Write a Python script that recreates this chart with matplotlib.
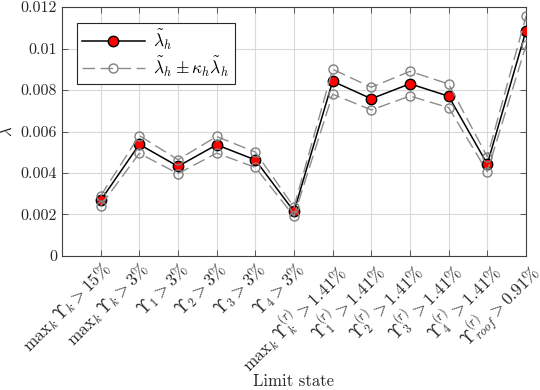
import numpy as np
import matplotlib
matplotlib.use("Agg")
import matplotlib.pyplot as plt

plt.rcParams['font.family'] = ['cmr10', 'DejaVu Serif']
plt.rcParams['mathtext.fontset'] = 'cm'
plt.rcParams['axes.unicode_minus'] = False

# limit states and estimated failure rates
states = [r'$\mathrm{max}_k\, \Upsilon_k > 15\%$',
          r'$\mathrm{max}_k\, \Upsilon_k > 3\%$',
          r'$\Upsilon_1 > 3\%$',
          r'$\Upsilon_2 > 3\%$',
          r'$\Upsilon_3 > 3\%$',
          r'$\Upsilon_4 > 3\%$',
          r'$\mathrm{max}_k\, \Upsilon^{(r)}_k > 1.41\%$',
          r'$\Upsilon^{(r)}_1 > 1.41\%$',
          r'$\Upsilon^{(r)}_2 > 1.41\%$',
          r'$\Upsilon^{(r)}_3 > 1.41\%$',
          r'$\Upsilon^{(r)}_4 > 1.41\%$',
          r'$\Upsilon^{(r)}_{roof} > 0.91\%$']
lam = [0.00268, 0.00538, 0.00432, 0.00536, 0.00463, 0.00215,
       0.00842, 0.00758, 0.00830, 0.00770, 0.00443, 0.01085]
upper = [0.00290, 0.00580, 0.00464, 0.00576, 0.00501, 0.00236,
         0.00900, 0.00813, 0.00890, 0.00829, 0.00478, 0.01155]
lower = [0.00242, 0.00495, 0.00397, 0.00496, 0.00427, 0.00192,
         0.00780, 0.00704, 0.00771, 0.00715, 0.00406, 0.01015]
yticks = [0, 0.002, 0.004, 0.006, 0.008, 0.01, 0.012]
ytick_labels = ['0', '0.002', '0.004', '0.006', '0.008', '0.01', '0.012']

x = np.arange(1, len(states) + 1)

fig = plt.figure(figsize=(5.4, 3.9), dpi=100)
ax = fig.add_axes([0.1148, 0.3436, 0.8592, 0.6384])

ax.plot(x, lam, '-o', color='black', lw=1.1, markerfacecolor='red',
        markeredgecolor='black', markersize=7.5, zorder=3,
        label=r'$\tilde{\lambda}_h$')
ax.plot(x, upper, '--o', color='0.55', lw=1.0, dashes=(9, 4),
        markerfacecolor='none', markeredgecolor='0.5', markersize=6.5,
        zorder=4, label=r'$\tilde{\lambda}_h \pm \kappa_h \tilde{\lambda}_h$')
ax.plot(x, lower, '--o', color='0.55', lw=1.0, dashes=(9, 4),
        markerfacecolor='none', markeredgecolor='0.5', markersize=6.5,
        zorder=4)

ax.set_xlim(0, 12)
ax.set_ylim(0, 0.012)
ax.set_xticks(x)
ax.set_xticklabels(states, rotation=45, ha='right', va='top',
                   rotation_mode='anchor', fontsize=12.5)
ax.set_yticks(yticks)
ax.set_yticklabels(ytick_labels, fontsize=11.5)
ax.tick_params(direction='in', top=True, right=True, length=4, width=0.6,
               colors='0.25', labelcolor='0.15')
ax.tick_params(axis='x', pad=2)
ax.grid(True, color='0.85', lw=0.8)
ax.set_axisbelow(True)
for s in ax.spines.values():
    s.set_color('0.25')
    s.set_linewidth(0.8)

ax.set_ylabel(r'$\lambda$', fontsize=12, color='0.15')
ax.set_xlabel('Limit state', fontsize=12, color='0.15')
ax.xaxis.set_label_coords(0.5, -0.472)

leg = ax.legend(loc='upper left', bbox_to_anchor=(0.032, 0.936), fontsize=12.5,
                fancybox=False, edgecolor='0.15', framealpha=1,
                handlelength=3.6, borderpad=0.3, labelspacing=0.15,
                handletextpad=0.5, borderaxespad=0)
leg.get_frame().set_linewidth(0.8)

fig.savefig('out.png', dpi=100)
